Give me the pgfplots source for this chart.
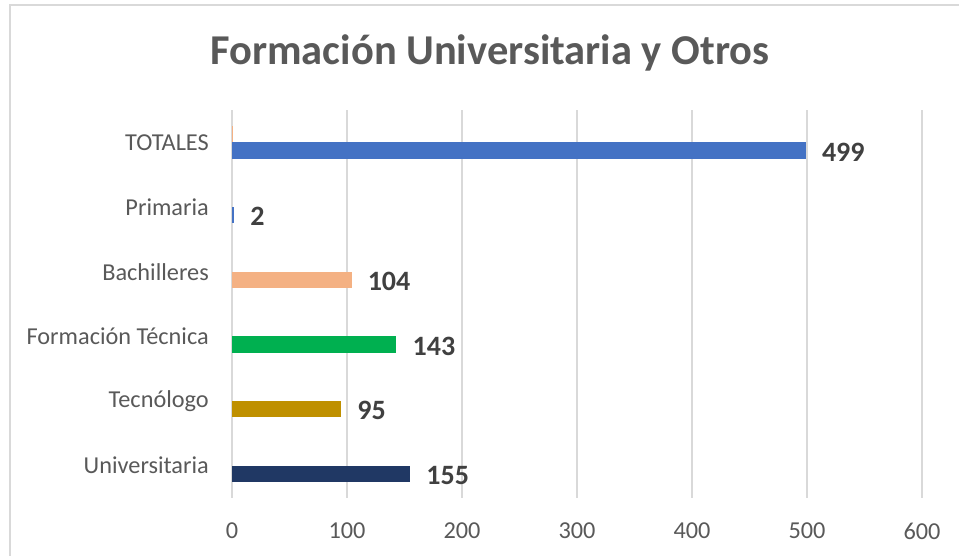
\documentclass[border=0pt]{standalone}
\usepackage{fontspec}
\setmainfont{Carlito}
\usepackage{pgfplots}
\pgfplotsset{compat=1.18}
\definecolor{cUni}{HTML}{203864}
\definecolor{cTec}{HTML}{BF9000}
\definecolor{cFT}{HTML}{00B050}
\definecolor{cBach}{HTML}{F4B183}
\definecolor{cPrim}{HTML}{4472C4}
\definecolor{cTot}{HTML}{4472C4}
\definecolor{gridc}{HTML}{D9D9D9}
\definecolor{txt}{HTML}{595959}
\definecolor{lbl}{HTML}{404040}
\begin{document}
\begin{tikzpicture}[x=1pt,y=1pt]
\useasboundingbox (0,0) rectangle (959,556);
\draw[gridc, line width=1.5pt] (10,0) -- (10,551) -- (959,551);
\node[anchor=base, text=txt, font=\fontsize{42.5}{50}\selectfont\bfseries] at (490,491) {Formación Universitaria y Otros};
\begin{axis}[
  at={(232pt,58pt)}, anchor=south west,
  scale only axis, width=690pt, height=388pt,
  xbar, bar width=16.5pt, bar shift=-8.25pt,
  xmin=0, xmax=600, ymin=-0.5, ymax=5.5,
  xtick={0,100,...,600},
  ytick={0,1,2,3,4,5},
  yticklabels={Universitaria,Tecnólogo,Formación Técnica,Bachilleres,Primaria,TOTALES},
  axis line style={draw=none},
  major tick length=0pt,
  xmajorgrids, grid style={gridc, line width=1.2pt},
  /pgf/number format/assume math mode=true,
  tick label style={font=\fontsize{24.3}{28}\selectfont, text=txt},
  xticklabel style={anchor=north, inner sep=0pt, yshift=-25pt},
  yticklabel style={anchor=east, inner sep=0pt, xshift=-23pt},
  nodes near coords,
  every node near coord/.append style={anchor=west, inner sep=0pt, xshift=16pt, yshift=-1.5pt,
     font=\fontsize{28}{32}\selectfont\bfseries, text=lbl},
  clip=false,
]
\addplot[fill=cUni, draw=none] coordinates {(155,0)};
\addplot[fill=cTec, draw=none] coordinates {(95,1)};
\addplot[fill=cFT, draw=none] coordinates {(143,2)};
\addplot[fill=cBach, draw=none] coordinates {(104,3)};
\addplot[fill=cPrim, draw=none] coordinates {(2,4)};
\addplot[fill=cTot, draw=none] coordinates {(499,5)};
\addplot[fill=cBach, draw=none, bar shift=8.25pt, nodes near coords=\empty] coordinates {(1,5)};
\end{axis}
\end{tikzpicture}
\end{document}
